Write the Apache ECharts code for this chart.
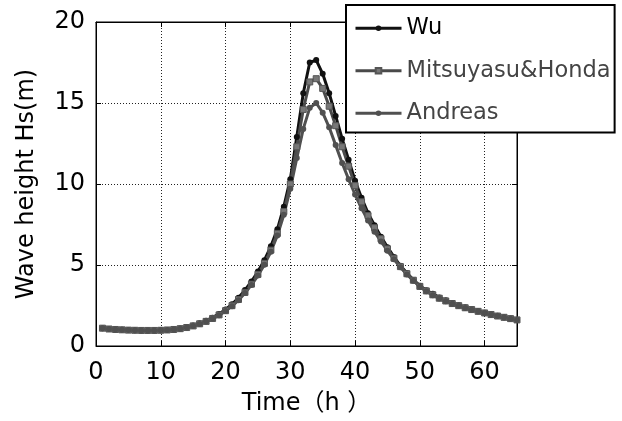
<!DOCTYPE html>
<html>
<head>
<meta charset="utf-8">
<script src="https://cdn.jsdelivr.net/npm/echarts@6/dist/echarts.min.js"></script>
<style>
html,body{margin:0;padding:0;background:#fff;}
#chart{width:622px;height:421px;}
</style>
</head>
<body>
<div id="chart"></div>
<script>
var hours = [1,2,3,4,5,6,7,8,9,10,11,12,13,14,15,16,17,18,19,20,21,22,23,24,25,26,27,28,29,30,31,32,33,34,35,36,37,38,39,40,41,42,43,44,45,46,47,48,49,50,51,52,53,54,55,56,57,58,59,60,61,62,63,64,65];
var wu = [1.10,1.05,1.02,1.00,0.98,0.97,0.96,0.96,0.96,0.97,0.99,1.03,1.08,1.16,1.26,1.40,1.56,1.75,1.98,2.25,2.58,2.98,3.45,3.98,4.60,5.30,6.15,7.20,8.60,10.3,12.9,15.6,17.5,17.65,16.8,15.6,14.2,12.8,11.5,10.2,9.15,8.2,7.45,6.75,6.1,5.5,4.95,4.5,4.08,3.72,3.44,3.22,3.0,2.82,2.66,2.52,2.39,2.27,2.16,2.06,1.96,1.87,1.78,1.70,1.62];
var mitsuyasu = [1.10,1.05,1.02,1.00,0.98,0.97,0.96,0.96,0.96,0.97,0.99,1.02,1.07,1.14,1.24,1.37,1.52,1.70,1.92,2.18,2.49,2.87,3.31,3.82,4.42,5.10,5.92,6.95,8.30,10.0,12.3,14.6,16.3,16.5,15.9,14.8,13.6,12.3,11.1,9.9,8.9,8.05,7.3,6.62,6.0,5.42,4.9,4.46,4.06,3.68,3.4,3.16,2.95,2.78,2.62,2.49,2.36,2.25,2.14,2.04,1.94,1.85,1.77,1.69,1.61];
var andreas = [1.10,1.05,1.02,1.00,0.98,0.97,0.96,0.96,0.96,0.97,0.99,1.02,1.07,1.14,1.24,1.36,1.51,1.69,1.90,2.16,2.46,2.83,3.27,3.77,4.35,5.02,5.82,6.82,8.10,9.70,11.6,13.4,14.7,15.0,14.4,13.5,12.4,11.3,10.3,9.35,8.5,7.75,7.05,6.45,5.88,5.35,4.86,4.42,4.03,3.66,3.38,3.14,2.93,2.76,2.61,2.48,2.35,2.24,2.13,2.03,1.94,1.85,1.76,1.68,1.60];
var xTicks = [0,10,20,30,40,50,60];
var yTicks = [0,5,10,15,20];
var seriesNames = ['Wu','Mitsuyasu&Honda','Andreas'];
var xTitle = 'Time（h ）';
var yTitle = 'Wave height Hs(m)';

function pairs(xs, ys){ return xs.map(function(x,i){ return [x, ys[i]]; }); }

var FONT = 'DejaVu Sans, Noto Sans CJK JP, sans-serif';
var chart = echarts.init(document.getElementById('chart'), null, {renderer:'canvas'});
var gridLine = {show:true, lineStyle:{color:'#222', width:1, type:[1,2]}};
chart.setOption({
  animation:false,
  backgroundColor:'#fff',
  grid:{left:96, right:105, top:22, bottom:75, show:true, borderColor:'#000', borderWidth:1},
  legend:{
    orient:'vertical', left:346, top:5,
    backgroundColor:'#fff', borderColor:'#000', borderWidth:2,
    padding:[12,4,8,8], itemGap:20, itemWidth:46, itemHeight:7,
    lineStyle:{width:3},
    textStyle:{fontFamily:FONT, fontSize:22.5, color:'#000'},
    data:[
      {name:seriesNames[0], textStyle:{color:'#000'}},
      {name:seriesNames[1], textStyle:{color:'#444'}},
      {name:seriesNames[2], textStyle:{color:'#444'}}
    ]
  },
  xAxis:[{
    type:'value', min:0, max:65, interval:10,
    name:xTitle, nameLocation:'middle', nameGap:46,
    nameTextStyle:{fontFamily:FONT, fontSize:24, color:'#000'},
    axisLine:{show:true, onZero:false, lineStyle:{color:'#000', width:1}},
    axisTick:{show:true, inside:true, length:5, lineStyle:{color:'#000'}},
    axisLabel:{show:true, showMaxLabel:false, margin:15, fontFamily:FONT, fontSize:24, color:'#000',
      formatter:function(v){ return xTicks.indexOf(v) >= 0 ? String(v) : ''; }},
    splitLine:gridLine
  },{
    type:'value', min:0, max:65, interval:10, position:'top',
    axisLine:{show:true, onZero:false, lineStyle:{color:'#000', width:1}},
    axisTick:{show:true, inside:true, length:5, lineStyle:{color:'#000'}},
    axisLabel:{show:false}, splitLine:{show:false}
  }],
  yAxis:[{
    type:'value', min:0, max:20, interval:5,
    name:yTitle, nameLocation:'middle', nameGap:57,
    nameTextStyle:{fontFamily:FONT, fontSize:24, color:'#000'},
    axisLine:{show:true, onZero:false, lineStyle:{color:'#000', width:1}},
    axisTick:{show:true, inside:true, length:5, lineStyle:{color:'#000'}},
    axisLabel:{show:true, margin:11, fontFamily:FONT, fontSize:24, color:'#000',
      formatter:function(v){ return yTicks.indexOf(v) >= 0 ? String(v) : ''; }},
    splitLine:gridLine
  },{
    type:'value', min:0, max:20, interval:5, position:'right',
    axisLine:{show:true, onZero:false, lineStyle:{color:'#000', width:1}},
    axisTick:{show:true, inside:true, length:5, lineStyle:{color:'#000'}},
    axisLabel:{show:false}, splitLine:{show:false}
  }],
  series:[
    {name:seriesNames[0], type:'line', xAxisIndex:0, yAxisIndex:0, data:pairs(hours, wu),
     showAllSymbol:true, symbol:'circle', symbolSize:6,
     lineStyle:{color:'#111', width:3}, itemStyle:{color:'#111'}},
    {name:seriesNames[1], type:'line', xAxisIndex:0, yAxisIndex:0, data:pairs(hours, mitsuyasu),
     showAllSymbol:true, symbol:'rect', symbolSize:6,
     lineStyle:{color:'#4a4a4a', width:3}, itemStyle:{color:'#777', borderColor:'#555', borderWidth:1}},
    {name:seriesNames[2], type:'line', xAxisIndex:0, yAxisIndex:0, data:pairs(hours, andreas),
     showAllSymbol:true, symbol:'circle', symbolSize:6,
     lineStyle:{color:'#505050', width:3}, itemStyle:{color:'#505050'}}
  ]
});
</script>
</body>
</html>
